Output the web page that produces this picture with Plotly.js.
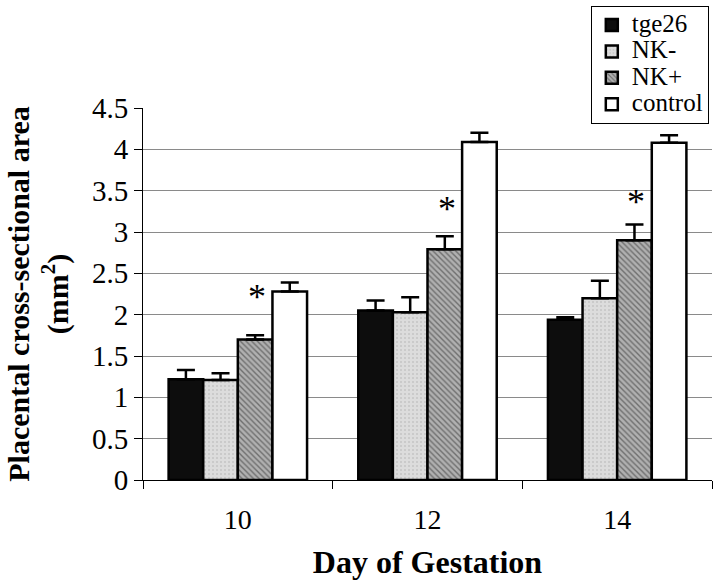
<!DOCTYPE html>
<html>
<head>
<meta charset="utf-8">
<script src="https://cdn.plot.ly/plotly-3.0.1.min.js"></script>
<style>html,body{margin:0;padding:0;background:#fff;}#chart{width:720px;height:583px;}</style>
</head>
<body>
<div id="chart"></div>
<script>
const days = ['10', '12', '14'];
const seriesNames = ['tge26', 'NK-', 'NK+', 'control'];
const tge26 = [1.22, 2.05, 1.94];
const tge26Err = [0.11, 0.12, 0.03];
const nkMinus = [1.21, 2.03, 2.20];
const nkMinusErr = [0.08, 0.18, 0.21];
const nkPlus = [1.70, 2.79, 2.90];
const nkPlusErr = [0.05, 0.16, 0.19];
const control = [2.28, 4.09, 4.08];
const controlErr = [0.11, 0.11, 0.09];
const starLevel = [2.27, 3.34, 3.42];

const serif = '"Liberation Serif", "Times New Roman", serif';
const fills = [
  {color: '#0d0d0d'},
  {color: '#d9d9d9', pattern: {shape: '.', fgcolor: '#c4c4c4', bgcolor: '#dcdcdc', size: 4, solidity: 0.2}},
  {color: '#a0a0a0', pattern: {shape: '\\', fgcolor: '#6f6f6f', bgcolor: '#b0b0b0', size: 4, solidity: 0.35}},
  {color: '#ffffff'}
];
const values = [tge26, nkMinus, nkPlus, control];
const errs = [tge26Err, nkMinusErr, nkPlusErr, controlErr];

const traces = seriesNames.map((name, i) => ({
  type: 'bar',
  name: '<span style="font-size:25px">' + name + '</span>',
  x: days,
  y: values[i],
  marker: Object.assign({}, fills[i], {line: {color: '#000', width: 2.5}}),
  error_y: {type: 'data', symmetric: false, array: errs[i], arrayminus: days.map(() => 0), color: '#000', thickness: 2.5, width: 9}
}));

const annotations = days.map((d, idx) => ({
  x: idx, xref: 'x', y: starLevel[idx], yref: 'y',
  xshift: 19, yshift: -5, yanchor: 'middle', text: '*', showarrow: false,
  font: {family: serif, size: 36, color: '#000'}
}));

const layout = {
  width: 720, height: 583,
  margin: {l: 143, r: 8, t: 108, b: 103, autoexpand: false},
  paper_bgcolor: '#fff', plot_bgcolor: '#fff',
  barmode: 'group', bargap: 0.27, bargroupgap: 0,
  showlegend: true,
  font: {family: serif, color: '#000'},
  legend: {
    x: 0.787, xanchor: 'left', y: 0.99, yref: 'container', yanchor: 'top',
    bordercolor: '#000', borderwidth: 1, bgcolor: '#fff',
    font: {family: serif, size: 18, color: '#000'},
    tracegroupgap: 0, itemwidth: 30
  },
  xaxis: {
    type: 'category', range: [-0.5, 2.5], tickson: 'boundaries', ticks: 'outside', ticklen: 8,
    ticklabelstandoff: 14,
    tickcolor: '#000', showline: true, linecolor: '#000', linewidth: 1,
    tickfont: {family: serif, size: 28, color: '#000'},
    title: {text: '<b>Day of Gestation</b>', font: {family: serif, size: 32, color: '#000'}, standoff: 17}
  },
  yaxis: {
    range: [0, 4.5], dtick: 0.5, tick0: 0, ticks: 'outside', ticklen: 8,
    tickcolor: '#000', showline: true, linecolor: '#000', linewidth: 1,
    showgrid: true, gridcolor: '#8a8a8a', gridwidth: 1, zeroline: false,
    tickfont: {family: serif, size: 29, color: '#000'},
    title: {text: '<b>Placental cross-sectional area<br>(mm<sup>2</sup>)</b>', font: {family: serif, size: 30, color: '#000'}, standoff: 14}
  },
  annotations: annotations
};

Plotly.newPlot('chart', traces, layout, {displayModeBar: false, staticPlot: true});
</script>
</body>
</html>
